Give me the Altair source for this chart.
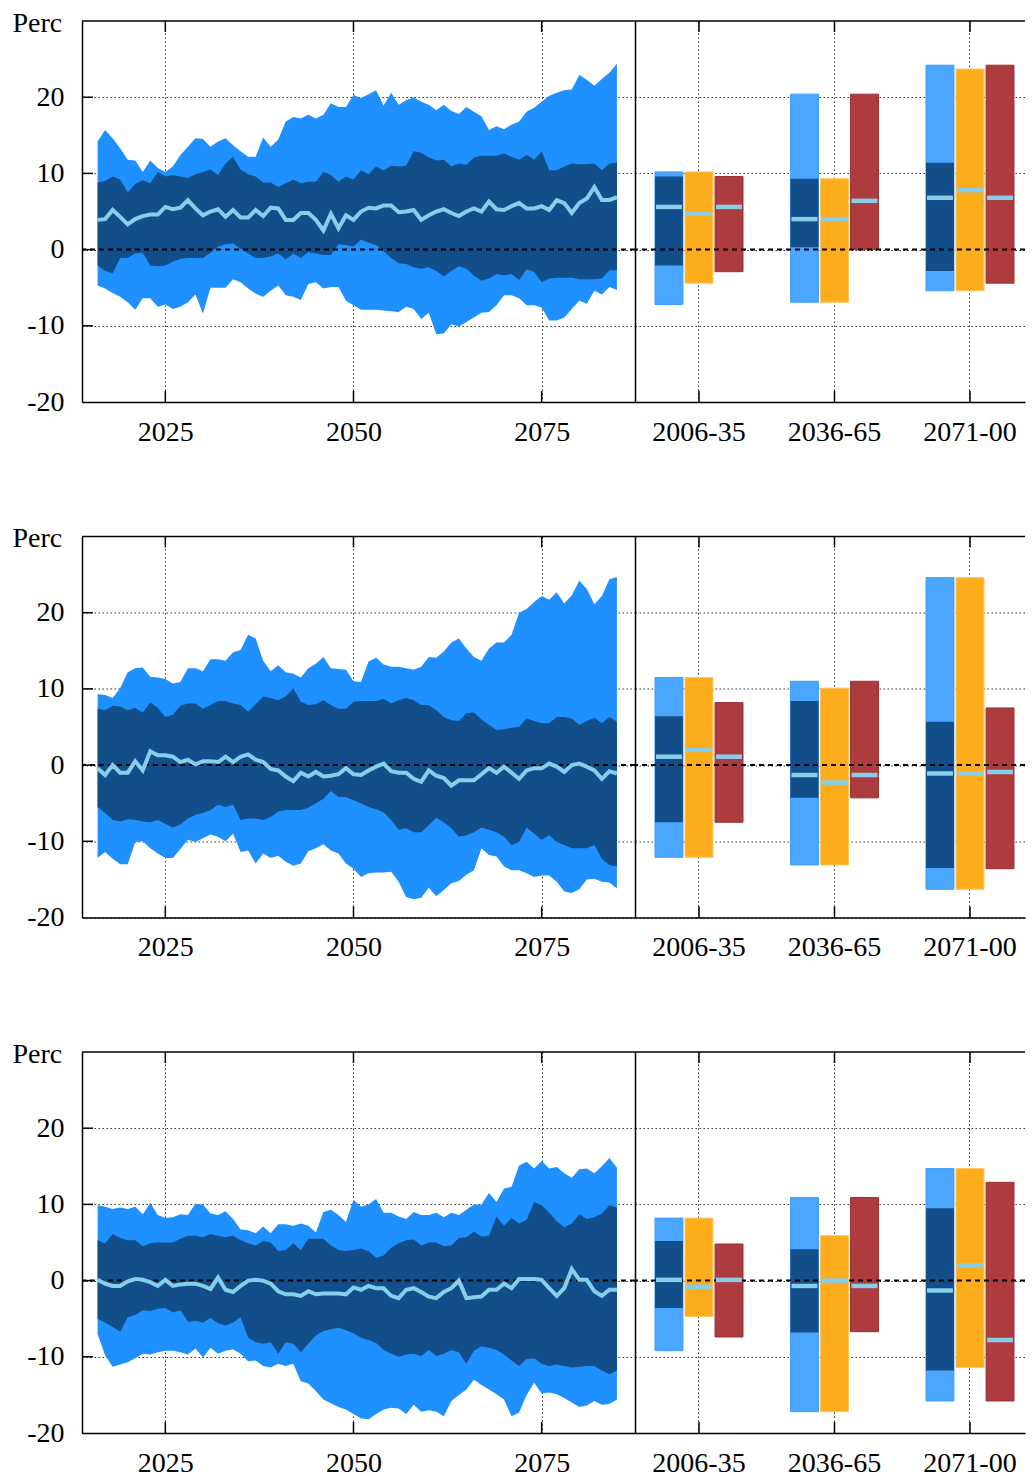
import altair as alt
import pandas as pd

# ---------------- data ----------------
YEARS = list(range(2016, 2086))

# Panel 1 (top)
P1_OUT_HI = [14.2, 15.7, 14.6, 13.3, 11.8, 11.7, 10.2, 11.7, 10.7, 10.2,
             10.9, 12.4, 13.5, 14.6, 14.5, 13.5, 14.2, 14.6, 13.7, 12.9,
             12.2, 12.2, 14.7, 13.5, 14.4, 16.8, 17.4, 17.2, 17.7, 17.2,
             17.7, 19.2, 18.7, 18.7, 20.3, 19.9, 20.4, 20.9, 18.9, 20.6,
             19.0, 19.6, 20.0, 19.4, 19.0, 18.3, 19.0, 18.2, 17.8, 18.7,
             18.1, 17.5, 15.7, 16.2, 15.8, 16.4, 16.8, 18.1, 18.6, 19.4,
             20.2, 20.6, 20.9, 21.0, 22.9, 22.3, 21.5, 22.4, 23.2, 24.4]
P1_IN_HI = [8.8, 9.0, 9.6, 9.2, 7.5, 8.6, 9.1, 8.7, 10.2, 9.6,
            9.8, 9.6, 9.4, 9.9, 10.2, 10.5, 9.8, 11.3, 12.2, 10.5,
            9.9, 9.6, 8.8, 8.8, 8.2, 8.7, 9.2, 8.7, 8.9, 8.9,
            10.2, 9.8, 8.9, 9.6, 9.2, 10.4, 9.9, 10.9, 10.4, 11.0,
            10.9, 11.0, 12.9, 12.7, 12.1, 11.7, 11.8, 10.9, 11.3, 11.1,
            12.1, 12.3, 12.3, 12.3, 12.6, 12.2, 11.8, 12.4, 11.8, 12.9,
            10.4, 10.4, 10.9, 11.3, 11.2, 11.2, 11.3, 10.4, 11.3, 11.4]
P1_MED = [3.9, 4.0, 5.2, 4.3, 3.3, 4.0, 4.4, 4.6, 4.6, 5.6,
          5.3, 5.5, 6.5, 5.4, 4.5, 5.0, 5.3, 4.3, 5.2, 4.2,
          4.2, 5.2, 4.4, 5.5, 5.4, 3.9, 3.9, 4.8, 4.8, 3.9,
          2.5, 4.7, 2.8, 4.5, 3.9, 5.0, 5.5, 5.4, 5.8, 5.8,
          4.9, 5.0, 5.2, 3.9, 4.5, 5.0, 5.3, 4.8, 4.4, 5.0,
          5.4, 5.0, 6.3, 5.3, 5.2, 5.7, 6.1, 5.4, 5.4, 5.7,
          5.2, 6.5, 6.1, 4.8, 6.1, 6.7, 8.2, 6.5, 6.5, 6.9]
P1_IN_LO = [-2.1, -2.8, -3.1, -1.1, -1.1, -0.5, -0.4, -2.1, -2.2, -2.1,
            -1.6, -1.2, -1.1, -1.1, -1.1, -0.4, 0.4, 0.7, 0.8, 0.1,
            -0.5, -1.1, -1.1, -0.9, -0.5, -1.3, -0.5, -1.1, -0.3, -0.5,
            -0.7, -0.7, 0.7, 0.6, 0.4, 1.3, 0.9, 0.6, -0.2, -1.1,
            -1.8, -1.9, -2.3, -2.5, -2.3, -2.8, -3.5, -2.8, -2.2, -2.5,
            -3.4, -4.1, -3.8, -3.2, -3.4, -3.2, -4.0, -2.6, -2.9, -4.3,
            -3.8, -3.7, -3.7, -3.7, -3.9, -3.9, -3.9, -3.8, -2.7, -2.7]
P1_OUT_LO = [-4.7, -5.1, -5.7, -6.2, -6.9, -7.9, -6.4, -6.4, -7.5, -7.2,
             -7.8, -7.5, -6.9, -5.9, -8.4, -5.0, -5.0, -5.0, -3.9, -4.3,
             -5.1, -5.8, -6.2, -5.4, -4.7, -6.0, -6.2, -6.6, -4.5, -4.3,
             -5.1, -4.9, -4.9, -6.7, -7.3, -7.9, -7.9, -7.9, -8.0, -8.1,
             -8.2, -7.5, -7.8, -9.1, -8.3, -11.1, -11.0, -9.8, -10.1, -9.5,
             -8.9, -8.3, -8.2, -7.3, -6.0, -6.0, -6.4, -7.3, -7.3, -7.6,
             -9.3, -9.3, -8.9, -7.8, -6.7, -7.1, -5.4, -5.9, -4.9, -5.3]

# Panel 2 (middle)
P2_OUT_HI = [9.3, 9.2, 8.8, 10.1, 12.2, 12.7, 12.8, 11.6, 11.5, 11.3,
             10.7, 10.9, 12.7, 12.7, 12.3, 13.9, 13.9, 13.7, 14.8, 15.1,
             17.1, 16.6, 13.7, 12.3, 13.1, 12.2, 12.0, 11.5, 12.7, 13.3,
             14.2, 12.7, 12.6, 12.5, 11.0, 10.9, 13.6, 14.1, 13.2, 12.9,
             12.9, 12.7, 12.5, 12.9, 14.2, 14.1, 14.9, 16.1, 16.6, 15.3,
             14.2, 13.7, 15.3, 16.1, 16.1, 17.1, 20.0, 20.5, 21.4, 22.2,
             21.7, 22.7, 21.2, 22.3, 24.2, 23.1, 21.1, 22.2, 24.4, 24.7]
P2_IN_HI = [7.4, 7.2, 7.8, 7.7, 7.2, 7.5, 6.9, 8.2, 7.5, 6.3,
            6.6, 7.8, 8.1, 8.1, 7.4, 7.9, 8.4, 8.4, 8.1, 7.9,
            7.0, 8.0, 9.0, 8.8, 8.5, 9.0, 10.1, 8.3, 7.9, 8.0,
            8.5, 7.9, 7.4, 7.4, 8.3, 8.4, 8.4, 8.4, 8.7, 8.1,
            8.5, 8.8, 8.5, 7.9, 7.9, 7.2, 6.3, 5.9, 5.8, 6.8,
            6.9, 6.0, 5.3, 4.6, 4.7, 4.9, 5.0, 6.1, 5.8, 5.5,
            5.5, 6.3, 6.3, 6.1, 5.3, 5.8, 6.2, 5.5, 6.3, 5.7]
P2_MED = [-0.4, -1.3, 0.0, -1.0, -1.0, 0.5, -0.7, 1.8, 1.3, 1.3,
          1.1, 0.4, 0.7, 0.1, 0.5, 0.5, 0.4, 1.1, 0.4, 1.1,
          1.4, 0.7, 0.4, -0.5, -0.7, -1.5, -2.1, -1.0, -1.5, -0.9,
          -1.5, -1.4, -1.2, -0.4, -1.2, -1.3, -0.7, -0.2, 0.2, -0.8,
          -1.0, -1.0, -1.8, -2.2, -0.7, -1.4, -1.7, -2.7, -2.0, -2.0,
          -2.0, -1.2, -0.4, -1.0, -0.2, -1.0, -1.8, -0.7, -0.4, -0.4,
          0.2, -0.2, -0.9, 0.0, 0.2, -0.2, -0.7, -1.8, -0.8, -1.1]
P2_IN_LO = [-5.5, -6.3, -7.2, -7.4, -7.1, -7.2, -7.4, -7.5, -7.2, -7.7,
            -8.2, -7.8, -7.0, -6.5, -6.3, -5.9, -5.2, -5.5, -5.2, -7.2,
            -7.0, -7.0, -7.2, -6.8, -6.1, -5.9, -5.9, -5.9, -5.6, -5.0,
            -4.4, -3.4, -4.2, -4.2, -4.6, -5.0, -5.5, -5.8, -6.2, -7.2,
            -8.5, -8.3, -8.8, -8.8, -7.9, -6.9, -7.5, -8.3, -9.4, -9.2,
            -8.8, -8.2, -8.5, -8.8, -9.4, -10.5, -10.1, -8.2, -9.0, -9.8,
            -9.2, -10.1, -10.5, -10.9, -10.9, -10.9, -10.5, -12.3, -13.1, -13.3]
P2_OUT_LO = [-12.2, -11.4, -12.3, -13.0, -13.0, -10.1, -10.0, -10.9, -11.6, -12.2,
             -12.2, -11.0, -9.8, -10.1, -9.6, -9.1, -9.4, -10.0, -9.0, -11.4,
             -11.2, -12.9, -11.6, -12.2, -11.9, -12.7, -13.2, -12.9, -11.3, -10.9,
             -10.4, -11.2, -11.6, -12.9, -13.6, -14.7, -14.2, -14.1, -14.1, -14.0,
             -15.3, -17.3, -17.6, -17.4, -16.1, -17.2, -16.4, -15.5, -15.2, -14.4,
             -13.8, -10.9, -11.8, -12.0, -13.3, -13.8, -13.8, -14.2, -14.7, -14.5,
             -14.5, -15.3, -16.6, -16.8, -16.3, -15.0, -14.9, -15.3, -15.4, -16.2]

# Panel 3 (bottom)
P3_OUT_HI = [9.9, 9.7, 9.4, 9.6, 9.4, 9.7, 8.7, 10.2, 8.6, 8.2,
             8.3, 8.7, 8.6, 10.1, 10.0, 8.8, 8.6, 9.1, 8.1, 6.7,
             6.6, 6.2, 7.1, 6.2, 7.4, 7.4, 7.2, 7.5, 7.2, 6.3,
             9.0, 9.3, 8.6, 7.7, 10.6, 9.7, 10.0, 10.7, 8.9, 8.9,
             8.4, 8.1, 9.0, 8.6, 8.6, 8.9, 8.3, 8.9, 8.6, 9.3,
             10.0, 10.0, 11.5, 10.3, 12.1, 12.3, 15.1, 15.6, 14.7, 15.7,
             14.7, 14.9, 14.1, 13.5, 14.6, 14.7, 14.1, 15.0, 16.1, 14.8]
P3_IN_HI = [5.3, 4.9, 6.1, 5.6, 5.3, 5.3, 4.5, 4.9, 5.0, 5.0,
            5.0, 5.5, 5.9, 5.9, 5.7, 6.1, 5.9, 5.7, 5.9, 5.3,
            4.9, 4.6, 5.2, 5.0, 3.9, 4.0, 4.9, 4.0, 5.5, 5.5,
            5.5, 4.6, 4.0, 3.9, 4.0, 4.2, 3.9, 3.0, 3.3, 4.3,
            4.9, 5.3, 5.4, 4.6, 5.0, 5.0, 4.5, 4.6, 5.6, 5.7,
            6.4, 5.8, 5.9, 8.4, 7.2, 8.2, 7.5, 8.0, 10.3, 9.9,
            8.9, 7.8, 7.0, 7.5, 8.7, 8.1, 8.3, 8.8, 9.9, 9.6]
P3_MED = [0.1, -0.4, -0.7, -0.7, -0.1, 0.2, 0.1, -0.2, -0.7, 0.1,
          -0.7, -0.5, -0.4, -0.4, -0.7, -1.1, 0.4, -1.2, -1.5, -0.7,
          0.0, 0.1, 0.0, -0.4, -1.4, -1.8, -1.8, -2.0, -1.4, -1.8,
          -1.7, -1.7, -1.7, -1.8, -0.9, -1.2, -0.7, -1.0, -1.0, -2.0,
          -2.3, -1.2, -1.0, -1.5, -2.1, -2.3, -1.5, -1.0, 0.0, -2.3,
          -2.2, -2.1, -1.2, -1.2, -0.4, -1.0, 0.2, 0.2, 0.2, 0.1,
          -1.0, -2.0, -1.0, 1.5, 0.1, 0.1, -1.4, -2.0, -1.2, -1.2]
P3_IN_LO = [-5.0, -5.5, -6.1, -6.7, -4.8, -4.5, -3.9, -4.0, -3.7, -3.6,
            -4.2, -3.9, -5.4, -5.3, -5.5, -4.9, -5.6, -5.9, -5.5, -4.8,
            -7.5, -8.1, -8.3, -8.1, -9.6, -8.1, -8.3, -9.4, -8.3, -7.2,
            -6.6, -6.4, -6.2, -6.5, -6.9, -7.5, -7.8, -8.2, -9.1, -9.6,
            -10.0, -9.7, -9.6, -9.9, -9.1, -9.9, -9.6, -9.1, -9.4, -10.9,
            -9.2, -8.6, -8.8, -9.1, -9.7, -10.5, -11.2, -10.3, -10.2, -10.9,
            -11.2, -11.0, -11.2, -11.4, -11.3, -11.2, -11.2, -11.8, -12.3, -11.8]
P3_OUT_LO = [-7.0, -9.8, -11.3, -11.0, -10.7, -10.2, -9.6, -9.7, -9.4, -9.2,
             -9.2, -9.4, -9.7, -8.9, -10.1, -8.8, -9.6, -9.2, -9.0, -9.6,
             -10.6, -10.5, -11.2, -11.4, -10.9, -11.2, -10.9, -13.2, -13.5, -14.5,
             -15.6, -16.1, -16.6, -16.9, -17.5, -18.1, -18.2, -17.5, -16.9, -16.7,
             -16.8, -17.5, -16.3, -17.2, -17.0, -17.2, -17.8, -15.8, -15.0, -14.3,
             -13.0, -13.7, -14.3, -14.9, -15.6, -17.8, -17.3, -15.0, -13.4, -14.8,
             -14.7, -14.9, -15.4, -16.0, -16.6, -16.4, -15.8, -16.3, -16.2, -15.6]

# Period bars
PERIODS = ["2006-35", "2036-65", "2071-00"]
SERIES = ["A", "B", "C"]

P1_BLUE_OUT_LO = [-7.2, -6.9, -5.4]
P1_BLUE_OUT_HI = [10.2, 20.4, 24.2]
P1_BLUE_IN_LO = [-2.1, 0.3, -2.8]
P1_BLUE_IN_HI = [9.6, 9.3, 11.4]
P1_BLUE_MED = [5.6, 4.0, 6.8]
P1_ORANGE_LO = [-4.4, -6.9, -5.4]
P1_ORANGE_HI = [10.2, 9.3, 23.7]
P1_ORANGE_MED = [4.7, 4.0, 7.8]
P1_RED_LO = [-2.9, 0.0, -4.4]
P1_RED_HI = [9.6, 20.4, 24.2]
P1_RED_MED = [5.6, 6.4, 6.8]

P2_BLUE_OUT_LO = [-12.1, -13.1, -16.3]
P2_BLUE_OUT_HI = [11.5, 11.0, 24.6]
P2_BLUE_IN_LO = [-7.5, -4.3, -13.5]
P2_BLUE_IN_HI = [6.4, 8.4, 5.7]
P2_BLUE_MED = [1.1, -1.3, -1.1]
P2_ORANGE_LO = [-12.1, -13.1, -16.3]
P2_ORANGE_HI = [11.5, 10.1, 24.6]
P2_ORANGE_MED = [2.0, -2.3, -1.1]
P2_RED_LO = [-7.5, -4.3, -13.6]
P2_RED_HI = [8.2, 11.0, 7.5]
P2_RED_MED = [1.1, -1.3, -0.9]

P3_BLUE_OUT_LO = [-9.2, -17.2, -15.8]
P3_BLUE_OUT_HI = [8.2, 10.9, 14.7]
P3_BLUE_IN_LO = [-3.6, -6.8, -11.8]
P3_BLUE_IN_HI = [5.2, 4.1, 9.5]
P3_BLUE_MED = [0.1, -0.7, -1.3]
P3_ORANGE_LO = [-4.7, -17.2, -11.4]
P3_ORANGE_HI = [8.2, 5.9, 14.7]
P3_ORANGE_MED = [-0.8, 0.0, 2.0]
P3_RED_LO = [-7.4, -6.7, -15.8]
P3_RED_HI = [4.8, 10.9, 12.9]
P3_RED_MED = [0.1, -0.7, -7.8]

YEAR_TICKS = [2025, 2050, 2075]
Y_TICKS = [-20, -10, 0, 10, 20]

# ---------------- style ----------------
FONT = "Liberation Serif"
C_OUT = "#1E90FF"
C_IN = "#124E8A"
C_MED = "#87CEEB"
C_BAR_LB = "#4BA6FF"
C_ORG = "#FDAD1C"
C_RED = "#AE3B3D"
LEFT_W, RIGHT_W, H = 553, 390, 381
TICK = 11
FS = 28

yscale = alt.Scale(domain=[-20, 30], nice=False, zero=False)
xscale_ts = alt.Scale(domain=[2013.93, 2087.4], nice=False, zero=False)

y_axis_left = alt.Axis(values=Y_TICKS, grid=True, ticks=False, tickSize=0,
                       labelPadding=18, labelExpr="datum.value + ''",
                       title="Perc", titleAngle=0,
                       titleAlign="left", titleBaseline="alphabetic",
                       titleX=-70, titleY=10, titleFont=FONT, titleFontSize=FS,
                       titleFontWeight="normal", titleColor="black")
y_axis_right = alt.Axis(values=Y_TICKS, grid=True, ticks=False, tickSize=0,
                        labels=False, title=None)


def Yl(field):
    return alt.Y(field, scale=yscale, axis=y_axis_left, title="Perc")


def Yr(field):
    return alt.Y(field, scale=yscale, axis=y_axis_right, title=None)


def ts_panel(out_lo, in_lo, med, in_hi, out_hi):
    df = pd.DataFrame({"year": YEARS, "out_lo": out_lo, "in_lo": in_lo,
                       "med": med, "in_hi": in_hi, "out_hi": out_hi})
    X = alt.X("year:Q", scale=xscale_ts,
              axis=alt.Axis(values=YEAR_TICKS, format="d", grid=True,
                            ticks=False, tickSize=0, labelPadding=16,
                            title=None))
    base = alt.Chart(df)
    outer = base.mark_area(color=C_OUT).encode(x=X, y=Yl("out_lo:Q"), y2="out_hi:Q")
    inner = base.mark_area(color=C_IN).encode(x=X, y=Yl("in_lo:Q"), y2="in_hi:Q")
    zero = alt.Chart(pd.DataFrame({"z": [0]})).mark_rule(
        color="black", strokeWidth=2, strokeDash=[5, 4]).encode(y=Yl("z:Q"))
    median = base.mark_line(color=C_MED, strokeWidth=4).encode(x=X, y=Yl("med:Q"))
    top = alt.Chart(pd.DataFrame({"z": [0]})).mark_rule(
        color="black", strokeWidth=1.5).encode(
        x=alt.value(0), x2=alt.value(LEFT_W), y=alt.value(0))
    ytk = alt.Chart(pd.DataFrame({"v": Y_TICKS[1:]})).mark_rule(
        color="black", strokeWidth=1.5).encode(
        y=Yl("v:Q"), x=alt.value(0), x2=alt.value(TICK))
    xdf = pd.DataFrame({"year": YEAR_TICKS})
    xtb = alt.Chart(xdf).mark_rule(color="black", strokeWidth=1.5).encode(
        x=X, y=alt.value(H - TICK), y2=alt.value(H))
    xtt = alt.Chart(xdf).mark_rule(color="black", strokeWidth=1.5).encode(
        x=X, y=alt.value(0), y2=alt.value(TICK))
    return alt.layer(outer, inner, zero, median, top, ytk, xtb, xtt).properties(
        width=LEFT_W, height=H)


def bar_panel(b_out_lo, b_out_hi, b_in_lo, b_in_hi, b_med,
              o_lo, o_hi, o_med, r_lo, r_hi, r_med):
    outer_df = pd.DataFrame({
        "period": PERIODS * 3,
        "series": ["A"] * 3 + ["B"] * 3 + ["C"] * 3,
        "lo": b_out_lo + o_lo + r_lo,
        "hi": b_out_hi + o_hi + r_hi,
    })
    inner_df = pd.DataFrame({"period": PERIODS, "series": ["A"] * 3,
                             "lo": b_in_lo, "hi": b_in_hi})
    med_df = pd.DataFrame({
        "period": PERIODS * 3,
        "series": ["A"] * 3 + ["B"] * 3 + ["C"] * 3,
        "med": b_med + o_med + r_med,
    })
    X = alt.X("period:N", sort=PERIODS,
              scale=alt.Scale(domain=PERIODS, paddingInner=0.3506,
                              paddingOuter=0.1144, align=0.645, round=False),
              axis=alt.Axis(grid=True, ticks=False, tickSize=0,
                            labelPadding=16, title=None, labelAngle=0,
                            bandPosition=0.5))
    XO = alt.XOffset("series:N", scale=alt.Scale(domain=SERIES, paddingInner=0.07))
    col = alt.Color("series:N", scale=alt.Scale(domain=SERIES,
                    range=[C_BAR_LB, C_ORG, C_RED]), legend=None)
    stk = alt.Stroke("series:N", scale=alt.Scale(domain=SERIES,
                     range=["#3F9DFF", "#FFC45A", "#9A3033"]), legend=None)
    outer = alt.Chart(outer_df).mark_bar(strokeWidth=1).encode(
        x=X, xOffset=XO, y=Yr("lo:Q"), y2="hi:Q", color=col, stroke=stk)
    inner = alt.Chart(inner_df).mark_bar(color=C_IN).encode(
        x=X, xOffset=XO, y=Yr("lo:Q"), y2="hi:Q")
    zero = alt.Chart(pd.DataFrame({"z": [0]})).mark_rule(
        color="black", strokeWidth=2, strokeDash=[5, 4]).encode(y=Yr("z:Q"))
    meds = alt.Chart(med_df).mark_tick(color=C_MED, thickness=4.5, size=26,
                                       opacity=1, orient="horizontal").encode(
        x=X, xOffset=XO, y=Yr("med:Q"))
    top = alt.Chart(pd.DataFrame({"z": [0]})).mark_rule(
        color="black", strokeWidth=1.5).encode(
        x=alt.value(0), x2=alt.value(RIGHT_W), y=alt.value(0))
    pdf = pd.DataFrame({"period": PERIODS})
    xtb = alt.Chart(pdf).mark_rule(color="black", strokeWidth=1.5).encode(
        x=X, y=alt.value(H - TICK), y2=alt.value(H))
    xtt = alt.Chart(pdf).mark_rule(color="black", strokeWidth=1.5).encode(
        x=X, y=alt.value(0), y2=alt.value(TICK))
    return alt.layer(outer, inner, zero, meds, top, xtb, xtt).properties(
        width=RIGHT_W, height=H)


p1l = ts_panel(P1_OUT_LO, P1_IN_LO, P1_MED, P1_IN_HI, P1_OUT_HI)
p2l = ts_panel(P2_OUT_LO, P2_IN_LO, P2_MED, P2_IN_HI, P2_OUT_HI)
p3l = ts_panel(P3_OUT_LO, P3_IN_LO, P3_MED, P3_IN_HI, P3_OUT_HI)
p1r = bar_panel(P1_BLUE_OUT_LO, P1_BLUE_OUT_HI, P1_BLUE_IN_LO, P1_BLUE_IN_HI,
                P1_BLUE_MED, P1_ORANGE_LO, P1_ORANGE_HI, P1_ORANGE_MED,
                P1_RED_LO, P1_RED_HI, P1_RED_MED)
p2r = bar_panel(P2_BLUE_OUT_LO, P2_BLUE_OUT_HI, P2_BLUE_IN_LO, P2_BLUE_IN_HI,
                P2_BLUE_MED, P2_ORANGE_LO, P2_ORANGE_HI, P2_ORANGE_MED,
                P2_RED_LO, P2_RED_HI, P2_RED_MED)
p3r = bar_panel(P3_BLUE_OUT_LO, P3_BLUE_OUT_HI, P3_BLUE_IN_LO, P3_BLUE_IN_HI,
                P3_BLUE_MED, P3_ORANGE_LO, P3_ORANGE_HI, P3_ORANGE_MED,
                P3_RED_LO, P3_RED_HI, P3_RED_MED)

chart = alt.concat(p1l, p1r, p2l, p2r, p3l, p3r, columns=2,
                   spacing={"row": 134.5, "column": 0}, bounds="flush").properties(
    padding={"top": 1, "left": 4, "right": 0, "bottom": 0}
).configure_view(stroke=None).configure_axis(
    labelFont=FONT, labelFontSize=FS, labelColor="black",
    domainColor="black", domainWidth=1.5,
    gridColor="#333333", gridDash=[1.5, 2.5], gridWidth=1,
    titleFont=FONT,
)

chart.save("out.html", embed_options={"renderer": "svg", "actions": False})
